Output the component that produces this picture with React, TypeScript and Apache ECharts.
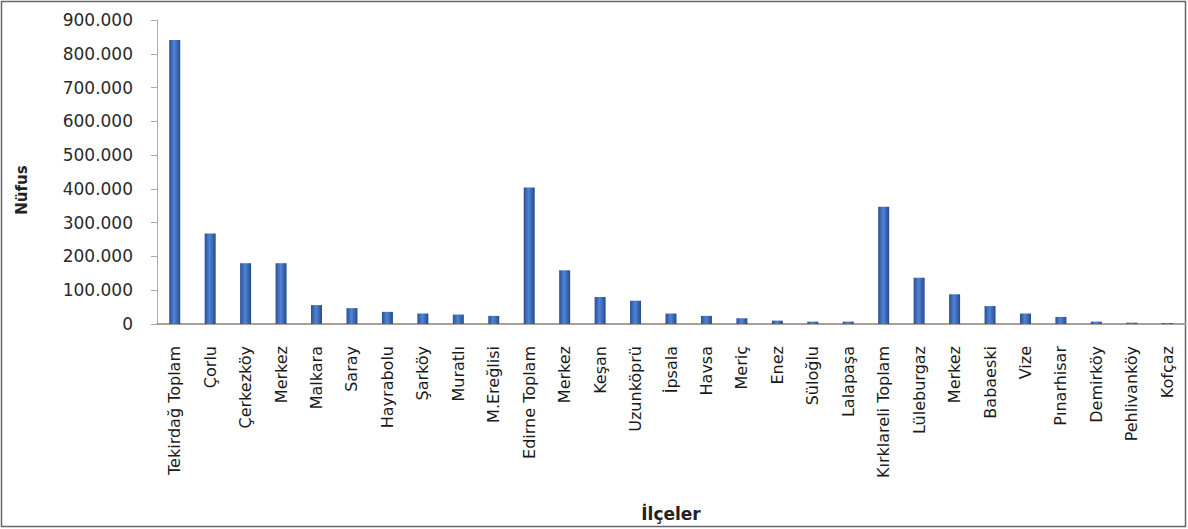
import React, { useEffect, useRef } from "react";
import * as echarts from "echarts";

const categories: string[] = [
  "Tekirdağ Toplam", "Çorlu", "Çerkezköy", "Merkez", "Malkara", "Saray", "Hayrabolu", "Şarköy", "Muratlı", "M.Ereğlisi",
  "Edirne Toplam", "Merkez", "Keşan", "Uzunköprü", "İpsala", "Havsa", "Meriç", "Enez", "Süloğlu", "Lalapaşa",
  "Kırklareli Toplam", "Lüleburgaz", "Merkez", "Babaeski", "Vize", "Pınarhisar", "Demirköy", "Pehlivanköy", "Kofçaz",
];

const population: number[] = [
  841000, 268000, 180000, 180000, 56000, 47000, 36000, 31000, 28000, 24000,
  404000, 159000, 80000, 69000, 31000, 24000, 17000, 10000, 7000, 7000,
  347000, 137000, 88000, 53000, 31000, 21000, 7000, 4000, 3000,
];

const yTicks: number[] = [0, 100000, 200000, 300000, 400000, 500000, 600000, 700000, 800000, 900000];

const fmt = (v: number) => (v === 0 ? "0" : String(v).replace(/\B(?=(\d{3})+(?!\d))/g, "."));

export default function App() {
  const ref = useRef<HTMLDivElement>(null);
  useEffect(() => {
    document.body.style.margin = "0";
    if (!ref.current) return;
    const chart = echarts.init(ref.current, null, { renderer: "svg" });
    const font = "DejaVu Sans";
    chart.setOption({
      animation: false,
      backgroundColor: "#ffffff",
      graphic: [
        {
          type: "rect",
          shape: { x: 1.5, y: 1.5, width: 1184, height: 525 },
          style: { fill: "none", stroke: "#666", lineWidth: 1.5 },
          silent: true,
        },
      ],
      grid: { left: 157, right: 3, top: 20, bottom: 205, containLabel: false },
      xAxis: {
        type: "category",
        data: categories,
        name: "İlçeler",
        nameLocation: "middle",
        nameGap: 181,
        nameTextStyle: { fontFamily: font, fontSize: 17, fontWeight: "bold", color: "#222" },
        axisLine: { show: true, lineStyle: { color: "#a89f98", width: 2 } },
        axisTick: { show: false },
        axisLabel: {
          interval: 0,
          rotate: 90,
          margin: 22,
          fontFamily: font,
          fontSize: 16,
          color: "#1a1a1a",
        },
      },
      yAxis: {
        type: "value",
        min: yTicks[0],
        max: yTicks[yTicks.length - 1],
        interval: yTicks[1] - yTicks[0],
        name: "Nüfus",
        nameLocation: "middle",
        nameGap: 128,
        nameRotate: 90,
        nameTextStyle: { fontFamily: font, fontSize: 15, fontWeight: "bold", color: "#222", padding: [0, 36, 0, 0] },
        axisLine: { show: true, lineStyle: { color: "#aaa" } },
        axisTick: { show: true, length: 6, lineStyle: { color: "#aaa" } },
        splitLine: { show: false },
        axisLabel: {
          margin: 24,
          fontFamily: font,
          fontSize: 17,
          color: "#2a2a2a",
          formatter: (v: number) => fmt(v),
        },
      },
      series: [
        {
          type: "bar",
          data: population,
          barWidth: 11,
          itemStyle: {
            color: new echarts.graphic.LinearGradient(0, 0, 1, 0, [
              { offset: 0, color: "#2b4f93" },
              { offset: 0.45, color: "#4f84d6" },
              { offset: 1, color: "#274a8a" },
            ]),
          },
        },
      ],
    });
    return () => chart.dispose();
  }, []);
  return <div ref={ref} style={{ width: 1188, height: 529 }} />;
}
